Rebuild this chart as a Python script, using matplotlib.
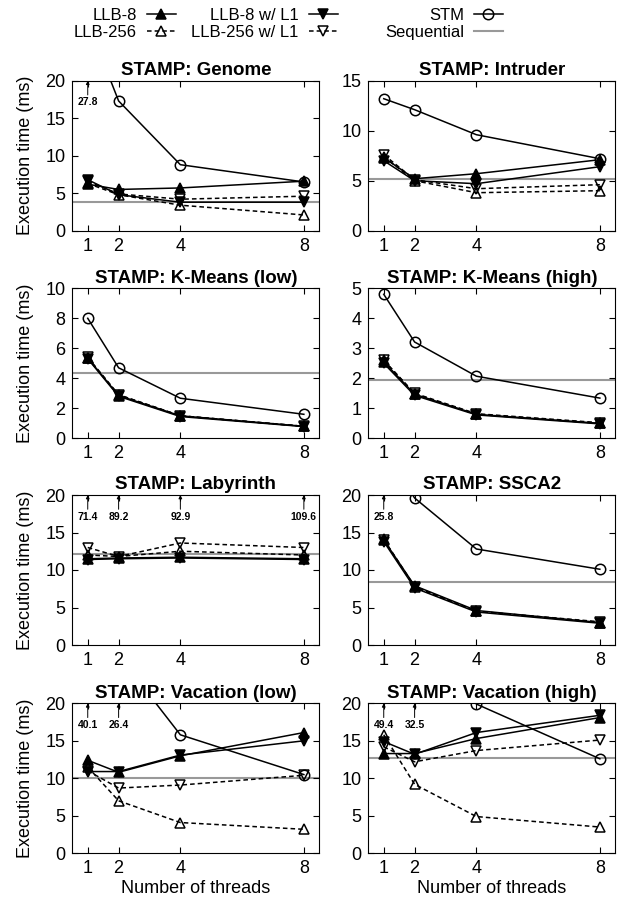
import numpy as np
import matplotlib.pyplot as plt

plt.rcParams['font.family'] = ['Liberation Sans', 'DejaVu Sans']

threads = [1, 2, 4, 8]
benchmarks = ["Genome", "Intruder", "K-Means (low)", "K-Means (high)",
              "Labyrinth", "SSCA2", "Vacation (low)", "Vacation (high)"]

# execution times (ms)
llb8 = {
    "Genome": [6.2, 5.5, 5.7, 6.6],
    "Intruder": [7.3, 5.2, 5.7, 7.1],
    "K-Means (low)": [5.35, 2.85, 1.5, 0.8],
    "K-Means (high)": [2.55, 1.47, 0.8, 0.5],
    "Labyrinth": [11.5, 11.6, 11.7, 11.5],
    "SSCA2": [14.0, 7.9, 4.6, 3.0],
    "Vacation (low)": [12.4, 10.8, 13.0, 16.1],
    "Vacation (high)": [13.3, 13.3, 15.3, 18.1],
}
llb256 = {
    "Genome": [6.3, 4.8, 3.4, 2.1],
    "Intruder": [7.4, 5.0, 3.8, 4.0],
    "K-Means (low)": [5.35, 2.9, 1.5, 0.8],
    "K-Means (high)": [2.6, 1.48, 0.8, 0.5],
    "Labyrinth": [12.0, 11.8, 12.5, 12.0],
    "SSCA2": [14.1, 7.8, 4.5, 3.0],
    "Vacation (low)": [11.5, 7.0, 4.1, 3.2],
    "Vacation (high)": [15.8, 9.2, 4.9, 3.5],
}
llb8_l1 = {
    "Genome": [6.8, 4.8, 3.8, 3.8],
    "Intruder": [7.0, 5.0, 4.7, 6.4],
    "K-Means (low)": [5.3, 2.8, 1.45, 0.78],
    "K-Means (high)": [2.5, 1.43, 0.78, 0.48],
    "Labyrinth": [11.4, 11.5, 11.6, 11.4],
    "SSCA2": [13.8, 7.6, 4.4, 2.9],
    "Vacation (low)": [10.9, 10.9, 13.1, 15.0],
    "Vacation (high)": [14.9, 13.2, 16.1, 18.4],
}
llb256_l1 = {
    "Genome": [6.6, 4.9, 4.2, 4.6],
    "Intruder": [7.6, 5.1, 4.2, 4.6],
    "K-Means (low)": [5.4, 2.9, 1.5, 0.8],
    "K-Means (high)": [2.6, 1.5, 0.82, 0.52],
    "Labyrinth": [13.0, 11.8, 13.6, 13.0],
    "SSCA2": [14.0, 7.7, 4.5, 3.1],
    "Vacation (low)": [11.0, 8.7, 9.1, 10.4],
    "Vacation (high)": [14.2, 12.2, 13.7, 15.1],
}
stm = {
    "Genome": [27.8, 17.3, 8.8, 6.5],
    "Intruder": [13.2, 12.1, 9.6, 7.2],
    "K-Means (low)": [8.0, 4.7, 2.67, 1.6],
    "K-Means (high)": [4.8, 3.21, 2.07, 1.34],
    "Labyrinth": [71.4, 89.2, 92.9, 109.6],
    "SSCA2": [25.8, 19.6, 12.8, 10.1],
    "Vacation (low)": [40.1, 26.4, 15.8, 10.5],
    "Vacation (high)": [49.4, 32.5, 19.9, 12.6],
}
sequential = {
    "Genome": 3.8, "Intruder": 5.15, "K-Means (low)": 4.33, "K-Means (high)": 1.95,
    "Labyrinth": 12.1, "SSCA2": 8.45, "Vacation (low)": 10.1, "Vacation (high)": 12.75,
}
ymax = {
    "Genome": 20, "Intruder": 15, "K-Means (low)": 10, "K-Means (high)": 5,
    "Labyrinth": 20, "SSCA2": 20, "Vacation (low)": 20, "Vacation (high)": 20,
}
ystep = {
    "Genome": 5, "Intruder": 5, "K-Means (low)": 2, "K-Means (high)": 1,
    "Labyrinth": 5, "SSCA2": 5, "Vacation (low)": 5, "Vacation (high)": 5,
}

fig = plt.figure(figsize=(6.21, 9.0), dpi=100)

col_left = [72.3 / 621, 368.3 / 621]
col_width = 247.0 / 621
row_bottom = [1 - 230.7 / 900, 1 - 438.3 / 900, 1 - 645.0 / 900, 1 - 853.3 / 900]
row_height = 150.0 / 900

styles = [
    ("LLB-8", llb8, dict(ls="-", marker="^", mfc="black")),
    ("LLB-256", llb256, dict(ls=(0, (3, 2)), marker="^", mfc="none")),
    ("LLB-8 w/ L1", llb8_l1, dict(ls="-", marker="v", mfc="black")),
    ("LLB-256 w/ L1", llb256_l1, dict(ls=(0, (3, 2)), marker="v", mfc="none")),
    ("STM", stm, dict(ls="-", marker="o", mfc="none", ms=7.5)),
]

handles = {}
for i, name in enumerate(benchmarks):
    r, c = divmod(i, 2)
    ax = fig.add_axes([col_left[c], row_bottom[r], col_width, row_height])
    top = ymax[name]

    # sequential baseline
    h = ax.axhline(sequential[name], color="#999999", lw=1.5, zorder=1)
    handles["Sequential"] = h

    for label, data, st in styles:
        kw = dict(color="black", lw=1.1, ms=7, mec="black", mew=1.1, zorder=3)
        kw.update(st)
        h, = ax.plot(threads, data[name], **kw)
        handles[label] = h

    # off-scale STM values
    for x, v in zip(threads, stm[name]):
        if v > top:
            ax.annotate("", xy=(x, 1.0), xytext=(x, 0.905),
                        xycoords=("data", "axes fraction"),
                        arrowprops=dict(arrowstyle="-|>", lw=0.7, color="black",
                                        mutation_scale=5, shrinkA=0, shrinkB=0))
            ax.text(x, 0.855, f"{v:.1f}", transform=ax.get_xaxis_transform(),
                    ha="center", va="center", fontsize=7.5, fontweight="bold")

    ax.set_xlim(0.5, 8.5)
    ax.set_ylim(0, top)
    ax.set_xticks(threads)
    ax.set_yticks(np.arange(0, top + 0.1, ystep[name]))
    ax.tick_params(direction="in", top=True, right=True, length=4, labelsize=13)
    ax.tick_params(axis="x", pad=5)
    ax.tick_params(axis="y", pad=5)
    ax.set_title("STAMP: " + name, fontsize=13.5, fontweight="bold", pad=4)
    if c == 0:
        ax.set_ylabel("Execution time (ms)", fontsize=13)
        ax.yaxis.set_label_coords(-0.155, 0.5)
    if r == 3:
        ax.set_xlabel("Number of threads", fontsize=13, labelpad=2)

legend_cols = [
    (["LLB-8", "LLB-256"], 176.0 / 621),
    (["LLB-8 w/ L1", "LLB-256 w/ L1"], 338.0 / 621),
    (["STM", "Sequential"], 503.0 / 621),
]
for labels, xr in legend_cols:
    fig.legend([handles[l] for l in labels], labels, loc="upper right",
               bbox_to_anchor=(xr, 1 - 8.0 / 900), frameon=False, markerfirst=False,
               fontsize=12, handlelength=1.75, handletextpad=0.6, labelspacing=0.12,
               borderpad=0, borderaxespad=0)

fig.savefig("out.png", dpi=100)
